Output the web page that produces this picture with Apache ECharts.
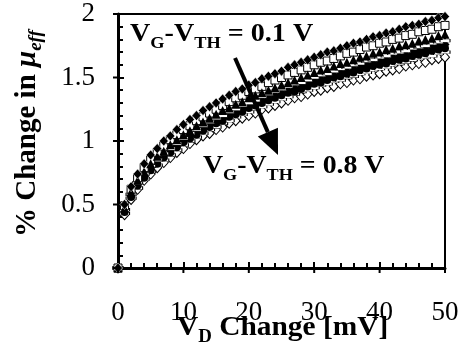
<!DOCTYPE html>
<html><head><meta charset="utf-8">
<script src="https://cdn.jsdelivr.net/npm/echarts@6/dist/echarts.min.js"></script>
<style>html,body{margin:0;padding:0;background:#fff}#c{width:464px;height:357px}</style>
</head><body><div id="c"></div>
<script>
// V_D change [mV]
const vd = [0,1,2,3,4,5,6,7,8,9,10,11,12,13,14,15,16,17,18,19,20,21,22,23,24,25,26,27,28,29,30,31,32,33,34,35,36,37,38,39,40,41,42,43,44,45,46,47,48,49,50];
// % change in mu_eff, one array per VG-VTH
const s01 = [0,0.50,0.64,0.74,0.82,0.89,0.94,1.00,1.04,1.09,1.13,1.17,1.20,1.24,1.27,1.30,1.33,1.36,1.39,1.41,1.44,1.46,1.49,1.51,1.53,1.55,1.58,1.60,1.62,1.64,1.66,1.68,1.70,1.71,1.73,1.75,1.77,1.78,1.80,1.82,1.83,1.85,1.86,1.88,1.90,1.91,1.92,1.94,1.95,1.97,1.98];
const s02 = [0,0.49,0.62,0.71,0.79,0.85,0.91,0.96,1.01,1.05,1.09,1.12,1.16,1.19,1.22,1.25,1.28,1.31,1.34,1.36,1.39,1.41,1.43,1.46,1.48,1.50,1.52,1.54,1.56,1.58,1.60,1.62,1.63,1.65,1.67,1.69,1.70,1.72,1.74,1.75,1.77,1.78,1.80,1.81,1.83,1.84,1.86,1.87,1.88,1.90,1.91];
const s03 = [0,0.47,0.60,0.69,0.76,0.82,0.88,0.92,0.97,1.01,1.05,1.08,1.12,1.15,1.18,1.21,1.24,1.26,1.29,1.31,1.34,1.36,1.38,1.40,1.42,1.44,1.46,1.48,1.50,1.52,1.54,1.56,1.57,1.59,1.61,1.62,1.64,1.66,1.67,1.69,1.70,1.72,1.73,1.75,1.76,1.77,1.79,1.80,1.81,1.83,1.84];
const s04 = [0,0.46,0.58,0.67,0.74,0.80,0.85,0.90,0.94,0.98,1.02,1.06,1.09,1.12,1.15,1.18,1.20,1.23,1.25,1.28,1.30,1.32,1.35,1.37,1.39,1.41,1.43,1.45,1.46,1.48,1.50,1.52,1.53,1.55,1.57,1.58,1.60,1.61,1.63,1.64,1.66,1.67,1.69,1.70,1.71,1.73,1.74,1.75,1.77,1.78,1.79];
const s05 = [0,0.45,0.57,0.66,0.73,0.79,0.84,0.89,0.93,0.97,1.00,1.04,1.07,1.10,1.13,1.16,1.18,1.21,1.23,1.26,1.28,1.30,1.32,1.34,1.36,1.38,1.40,1.42,1.44,1.46,1.47,1.49,1.51,1.52,1.54,1.55,1.57,1.59,1.60,1.61,1.63,1.64,1.66,1.67,1.68,1.70,1.71,1.72,1.74,1.75,1.76];
const s06 = [0,0.44,0.56,0.65,0.71,0.77,0.82,0.87,0.91,0.95,0.99,1.02,1.05,1.08,1.11,1.14,1.16,1.19,1.21,1.23,1.26,1.28,1.30,1.32,1.34,1.36,1.38,1.39,1.41,1.43,1.45,1.46,1.48,1.50,1.51,1.53,1.54,1.56,1.57,1.59,1.60,1.61,1.63,1.64,1.65,1.67,1.68,1.69,1.71,1.72,1.73];
const s07 = [0,0.43,0.55,0.63,0.70,0.76,0.81,0.85,0.89,0.93,0.97,1.00,1.03,1.06,1.09,1.11,1.14,1.16,1.19,1.21,1.23,1.25,1.27,1.29,1.31,1.33,1.35,1.37,1.39,1.40,1.42,1.44,1.45,1.47,1.48,1.50,1.51,1.53,1.54,1.56,1.57,1.58,1.60,1.61,1.62,1.64,1.65,1.66,1.67,1.69,1.70];
const s08 = [0,0.42,0.54,0.62,0.69,0.74,0.79,0.83,0.87,0.91,0.94,0.98,1.01,1.04,1.06,1.09,1.11,1.14,1.16,1.18,1.20,1.22,1.25,1.26,1.28,1.30,1.32,1.34,1.35,1.37,1.39,1.40,1.42,1.43,1.45,1.46,1.48,1.49,1.51,1.52,1.53,1.55,1.56,1.57,1.59,1.60,1.61,1.62,1.64,1.65,1.66];
const xTicks = [0,10,20,30,40,50];
const yTicks = [0,0.5,1,1.5,2];

const FONT = 'Liberation Serif';
const TICK = '#000';
const chart = echarts.init(document.getElementById('c'), null, {renderer:'canvas'});

function pairs(arr){ return vd.map((x,i)=>[x,arr[i]]); }

const mctx = document.createElement('canvas').getContext('2d');
function partsText(parts){
  const els = []; let x = 0;
  parts.forEach(p=>{
    const font = (p.it?'italic ':'') + 'bold ' + p.size + 'px "' + FONT + '"';
    mctx.font = font;
    const w = mctx.measureText(p.t).width;
    els.push({type:'text', x:x, y:(p.dy||0) - 0.3375*p.size,
      style:{text:p.t, font:font, fill:'#000', verticalAlign:'middle', align:'left'}, z:100});
    x += w;
  });
  return els;
}

const ann1 = partsText([{t:'V',size:26},{t:'G',size:17,dy:6},{t:'-V',size:26},{t:'TH',size:17,dy:6},{t:' = 0.1 V',size:26}]);
const ann2 = partsText([{t:'V',size:26},{t:'G',size:17,dy:6},{t:'-V',size:26},{t:'TH',size:17,dy:6},{t:' = 0.8 V',size:26}]);
const xTitle = partsText([{t:'V',size:28},{t:'D',size:18,dy:6},{t:' Change [mV]',size:28}]);
const yTitleParts = partsText([{t:'% Change in ',size:29},{t:'μ',size:29,it:true},{t:'eff',size:19,it:true,dy:6}]);

const ax0=235, ay0=58, tx=278, ty=155;
const dx=tx-ax0, dy=ty-ay0, L=Math.hypot(dx,dy), ux=dx/L, uy=dy/L;
const hl=25, hw=11;
const bx=tx-ux*hl, by=ty-uy*hl;

const markerSeries = [
  {name:'0.8', data:s08, symbol:'diamond', size:[9,10], color:'#fff', border:'#000', bw:1},
  {name:'0.7', data:s07, symbol:'rect', size:[10,3], color:'#fff', border:'#000', bw:0.6},
  {name:'0.6', data:s06, symbol:'circle', size:8, color:'#000', border:'#000', bw:0},
  {name:'0.5', data:s05, symbol:'diamond', size:[9,10], color:'#000', border:'#000', bw:0},
  {name:'0.4', data:s04, symbol:'rect', size:[10,3], color:'#fff', border:'#000', bw:0.6},
  {name:'0.2', data:s02, symbol:'rect', size:8, color:'#fff', border:'#000', bw:1},
  {name:'0.3', data:s03, symbol:'triangle', size:9, color:'#000', border:'#000', bw:0},
  {name:'0.1', data:s01, symbol:'diamond', size:[9,10], color:'#000', border:'#fff', bw:0.5}
];

const tickCommon = {
  axisTick:{show:true, inside:true, length:6, lineStyle:{color:TICK, width:2}},
  minorTick:{show:true, splitNumber:5, length:5, lineStyle:{color:TICK, width:2}},
  splitLine:{show:false}, minorSplitLine:{show:false}
};

chart.setOption({
  animation:false,
  backgroundColor:'#fff',
  grid:{left:118, right:19, top:14, bottom:89},
  xAxis:[
    Object.assign({type:'value', min:0, max:50, interval:10, position:'bottom',
      axisLine:{show:true, onZero:false, lineStyle:{color:'#000', width:3}},
      axisLabel:{show:true, margin:31, fontFamily:FONT, fontSize:27, color:'#000', formatter:v=>xTicks.includes(v)?String(v):''}
    }, tickCommon),
    {type:'value', min:0, max:50, interval:10, position:'top',
      axisLine:{show:true, onZero:false, lineStyle:{color:'#000', width:2}},
      axisTick:{show:false}, axisLabel:{show:false}, splitLine:{show:false}}
  ],
  yAxis:[
    Object.assign({type:'value', min:0, max:2, interval:0.5, position:'left',
      axisLine:{show:true, onZero:false, lineStyle:{color:'#000', width:3}},
      axisLabel:{show:true, margin:23, fontFamily:FONT, fontSize:27, color:'#000', formatter:v=>yTicks.includes(v)?String(v):''}
    }, tickCommon),
    {type:'value', min:0, max:2, interval:0.5, position:'right',
      axisLine:{show:true, onZero:false, lineStyle:{color:'#000', width:2}},
      axisTick:{show:false}, axisLabel:{show:false}, splitLine:{show:false}}
  ],
  series: markerSeries.map(m=>({
    type:'scatter', name:m.name, data:pairs(m.data), clip:false,
    symbol:m.symbol, symbolSize:m.size,
    itemStyle:{color:m.color, borderColor:m.border, borderWidth:m.bw, opacity:1}
  }))
});

const extra = [];
const xOrigin = chart.convertToPixel({xAxisIndex:0}, 0);
const yOrigin = chart.convertToPixel({yAxisIndex:0}, 0);
xTicks.forEach(v=>{
  const p = chart.convertToPixel({xAxisIndex:0}, v);
  extra.push({type:'line', shape:{x1:p, y1:yOrigin, x2:p, y2:yOrigin+5}, style:{stroke:TICK, lineWidth:2}, z:50});
});
yTicks.forEach(v=>{
  const p = chart.convertToPixel({yAxisIndex:0}, v);
  extra.push({type:'line', shape:{x1:xOrigin-5, y1:p, x2:xOrigin, y2:p}, style:{stroke:TICK, lineWidth:2}, z:50});
});

chart.setOption({graphic: [
  {type:'group', x:130, y:43, scaleX:1.08, children:ann1},
  {type:'group', x:203, y:175, scaleX:1.07, children:ann2},
  {type:'group', x:177, y:337, scaleX:1.05, children:xTitle},
  {type:'group', x:37, y:237, rotation:Math.PI/2, children:yTitleParts},
  {type:'line', shape:{x1:ax0, y1:ay0, x2:bx, y2:by}, style:{stroke:'#000', lineWidth:4}, z:100},
  {type:'polygon', shape:{points:[[tx,ty],[bx-uy*hw, by+ux*hw],[bx+uy*hw, by-ux*hw]]}, style:{fill:'#000'}, z:100}
].concat(extra)});
</script>
</body></html>
